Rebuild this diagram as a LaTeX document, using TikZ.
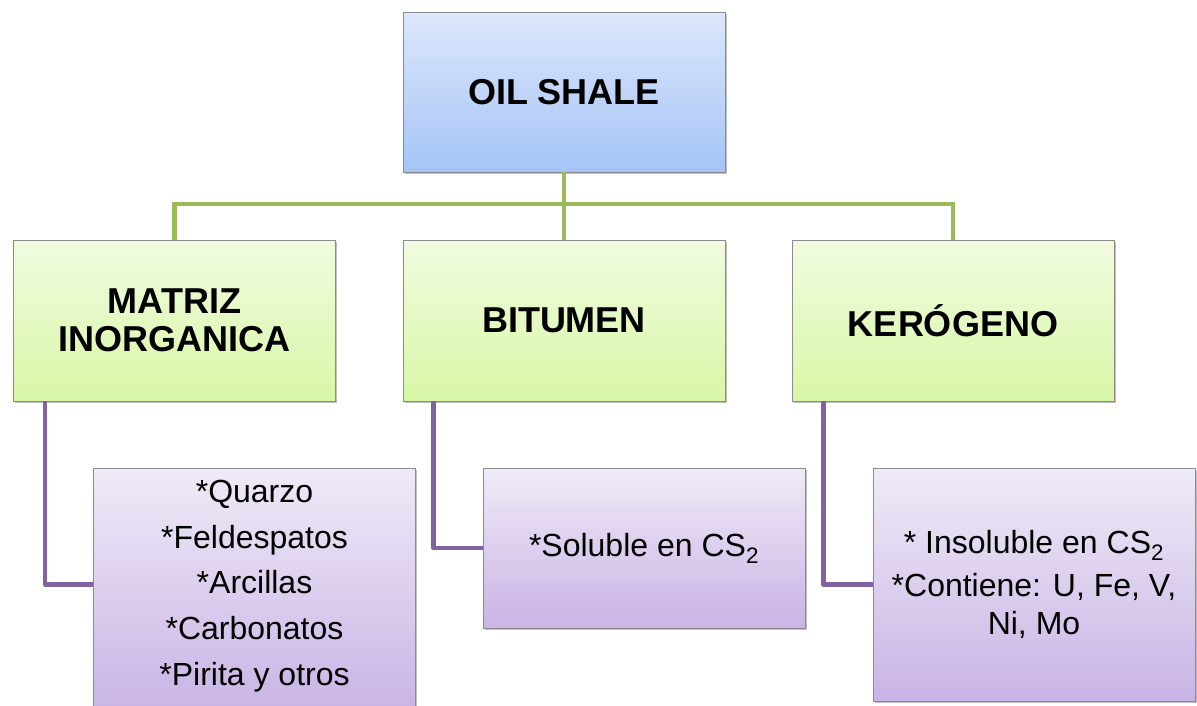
\documentclass[tikz,border=0pt]{standalone}
\usepackage{fontspec}
\setmainfont{Liberation Sans}
\usetikzlibrary{shadows,calc}

\definecolor{edgegray}{HTML}{8C8C8C}
\definecolor{blueTop}{HTML}{DCE7FB}
\definecolor{blueBot}{HTML}{A5C4F6}
\definecolor{greenTop}{HTML}{F1FBE0}
\definecolor{greenBot}{HTML}{D8F7A6}
\definecolor{purpTop}{HTML}{F0EAF7}
\definecolor{purpBot}{HTML}{C8B4E5}
\definecolor{greenLine}{HTML}{9BBB59}
\definecolor{purpLine}{HTML}{8064A2}

\tikzset{
  box/.style={rectangle, draw=edgegray, line width=0.8pt, inner sep=0pt,
    minimum width=322pt, align=center,
    drop shadow={shadow xshift=1.5pt, shadow yshift=-2pt, opacity=0.25, fill=black}},
  topbox/.style={box, top color=blueTop, bottom color=blueBot, minimum height=160pt,
    font=\fontsize{36}{40}\selectfont\bfseries},
  midbox/.style={box, top color=greenTop, bottom color=greenBot, minimum height=161pt,
    font=\fontsize{36}{38}\selectfont\bfseries},
  leafbox/.style={box, top color=purpTop, bottom color=purpBot},
  leaftext/.style={align=center, inner sep=0pt},
  greenlink/.style={draw=greenLine, line width=4.5pt},
  purplink/.style={draw=purpLine, line width=4.5pt, line join=round},
}

\begin{document}
\begin{tikzpicture}[x=1pt,y=-1pt]
  \useasboundingbox (0,0) rectangle (1197,705);
  \clip (0,0) rectangle (1197,705);

  % junction of the upper tree links
  \coordinate (bus) at (564,204);

  % root node
  \node[topbox] (oil) at (564,92) {OIL SHALE};

  % second level
  \node[midbox] (mat) at (174.5,320.5) {MATRIZ\\INORGANICA};
  \node[midbox] (bit) at (564,320.5) {BITUMEN};
  \node[midbox] (ker) at (953,320.5) {KERÓGENO};

  % leaves
  \node[leafbox, minimum height=244pt] (minl) at (254.5,590) {};
  \node[leaftext, font=\fontsize{32}{45.7}\selectfont] (mint) at (254.5,586)
    {*Quarzo\\*Feldespatos\\*Arcillas\\*Carbonatos\\*Pirita y otros};
  \coordinate (minin) at ($(minl.north west)+(0,117)$);

  \node[leafbox, minimum height=160pt, font=\fontsize{32}{38}\selectfont] (sol) at (644,548)
    {*Soluble en CS\textsubscript{2}};

  \node[leafbox, minimum height=233pt, font=\fontsize{32}{38.5}\selectfont] (ins) at (1034,584.5)
    {* Insoluble en CS\textsubscript{2}\\[4pt]*Contiene: U, Fe, V,\\Ni, Mo};

  % tree links
  \draw[greenlink] (oil.south) -- (bus) -| (mat.north);
  \draw[greenlink] (bus) -- (bit.north);
  \draw[greenlink] (bus) -| (ker.north);

  \draw[purplink] ([xshift=32pt]mat.south west) |- (minin);
  \draw[purplink] ([xshift=31pt]bit.south west) |- (sol.west);
  \draw[purplink] ([xshift=32pt]ker.south west) |- (ins.west);
\end{tikzpicture}
\end{document}
